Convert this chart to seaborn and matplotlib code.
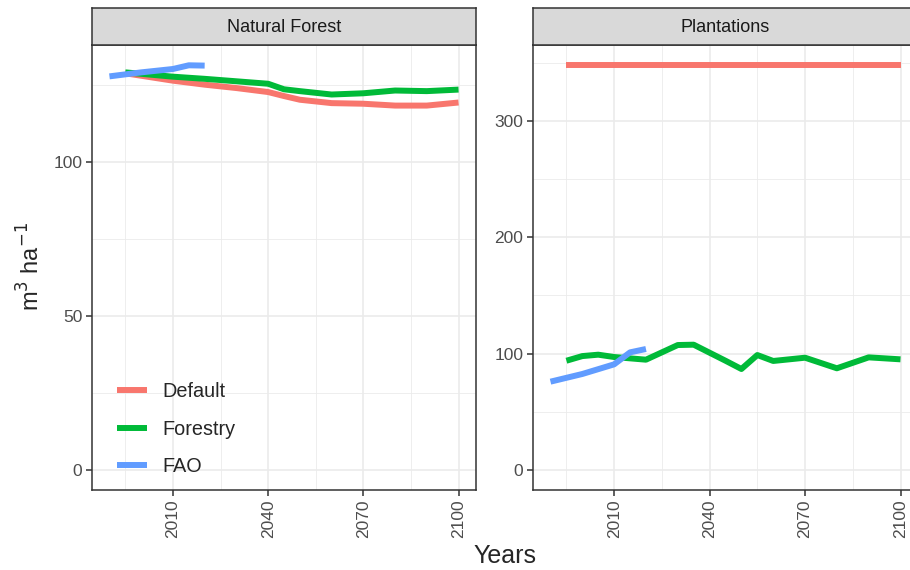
import seaborn as sns
import matplotlib.pyplot as plt
import pandas as pd

# Natural Forest
nf_years = [1995, 2010, 2020, 2030, 2040, 2045, 2050, 2060, 2070, 2080, 2090, 2100]
nf_default = [128.9, 126.5, 125.2, 124.1, 122.8, 121.5, 120.3, 119.2, 119.0, 118.4, 118.4, 119.4]
nf_forestry = [129.2, 127.8, 127.1, 126.3, 125.5, 123.7, 123.1, 122.0, 122.4, 123.3, 123.1, 123.6]
nf_fao_years = [1990, 2000, 2010, 2015, 2020]
nf_fao = [127.9, 129.2, 130.3, 131.5, 131.4]

# Plantations
pl_years = [1995, 2000, 2005, 2010, 2020, 2030, 2035, 2045, 2050, 2055, 2060, 2070, 2080, 2090, 2100]
pl_default = [348, 348, 348, 348, 348, 348, 348, 348, 348, 348, 348, 348, 348, 348, 348]
pl_forestry = [93.8, 97.8, 99.0, 97.0, 94.7, 107.3, 107.6, 93.8, 86.7, 98.7, 93.6, 96.4, 87.3, 96.7, 95.0]
pl_fao_years = [1990, 2000, 2010, 2015, 2020]
pl_fao = [75.8, 82.4, 90.7, 101.0, 103.9]

scenarios = ['Default', 'Forestry', 'FAO']
colors = ['#F8766D', '#00BA38', '#619CFF']


def long_df(pairs):
    frames = []
    for name, yrs, vals in pairs:
        frames.append(pd.DataFrame({'Year': yrs, 'value': vals, 'Scenario': name}))
    return pd.concat(frames, ignore_index=True)


df_nf = long_df([('Default', nf_years, nf_default),
                 ('Forestry', nf_years, nf_forestry),
                 ('FAO', nf_fao_years, nf_fao)])
df_pl = long_df([('Default', pl_years, pl_default),
                 ('Forestry', pl_years, pl_forestry),
                 ('FAO', pl_fao_years, pl_fao)])

sns.set_theme(style='white')
plt.rcParams['font.family'] = ['Liberation Sans', 'DejaVu Sans']

fig = plt.figure(figsize=(9.1, 5.7), dpi=100)
W, H = 910, 570


def box(x0, y0, x1, y1):
    return [x0 / W, 1 - y1 / H, (x1 - x0) / W, (y1 - y0) / H]


panels = [
    (df_nf, 'Natural Forest', box(92, 45, 476, 490), (-6.6, 138.1), [0, 50, 100], [25, 75, 125], True),
    (df_pl, 'Plantations', box(533, 45, 918, 490), (-17.4, 365.4), [0, 100, 200, 300], [50, 150, 250, 350], False),
]

for data, title, rect, ylim, yticks, yminor, show_leg in panels:
    ax = fig.add_axes(rect)
    ax.set_axisbelow(True)
    for v in yminor:
        ax.axhline(v, color='#EBEBEB', lw=0.6, zorder=0)
    for v in [1995, 2025, 2055, 2085]:
        ax.axvline(v, color='#EBEBEB', lw=0.6, zorder=0)
    ax.grid(True, which='major', color='#EBEBEB', lw=1.2)
    sns.lineplot(
        data=data
        , x='Year'
        , y='value'
        , hue='Scenario'
        , hue_order=scenarios
        , palette=colors
        , linewidth=4.3
        , ax=ax
        , legend=show_leg
    )
    for line in ax.get_lines():
        line.set_solid_capstyle('butt')
        line.set_solid_joinstyle('round')
    ax.set(
        xlim=(1984.5, 2105.5)
        , ylim=ylim
        , xlabel=''
        , ylabel=''
        , xticks=[2010, 2040, 2070, 2100]
        , yticks=yticks
    )
    ax.tick_params(axis='x', rotation=90, labelsize=12.5, labelcolor='#4D4D4D',
                   length=4, width=1.1, color='#333333', bottom=True, pad=3)
    ax.tick_params(axis='y', labelsize=12.5, labelcolor='#4D4D4D',
                   length=4, width=1.1, color='#333333', left=True, pad=3)
    for s in ax.spines.values():
        s.set_color('#333333')
        s.set_linewidth(1.1)

    # facet strip
    sax = fig.add_axes([rect[0], 1 - 45 / H, rect[2], 37.5 / H])
    sax.set_facecolor('#D9D9D9')
    sax.set_xticks([])
    sax.set_yticks([])
    for s in sax.spines.values():
        s.set_color('#333333')
        s.set_linewidth(1.1)
    sax.text(0.5, 0.48, title, ha='center', va='center', fontsize=13, color='#1A1A1A',
             transform=sax.transAxes)

    if show_leg:
        leg = ax.legend(
            loc='center left'
            , bbox_to_anchor=(0.065, 0.137)
            , frameon=False
            , fontsize=14.3
            , handlelength=1.5
            , labelspacing=0.95
            , handletextpad=0.8
            , borderpad=0
            , borderaxespad=0
            , title=None
        )
        for line in leg.get_lines():
            line.set_linewidth(4.3)
            line.set_solid_capstyle('butt')

fig.text(505 / W, 1 - 556 / H, 'Years', ha='center', va='center', fontsize=18)
fig.text(31 / W, 1 - 267 / H, r'm$^3$ ha$^{-1}$', ha='center', va='center',
         rotation=90, fontsize=17)

fig.savefig('out.png', dpi=100)
